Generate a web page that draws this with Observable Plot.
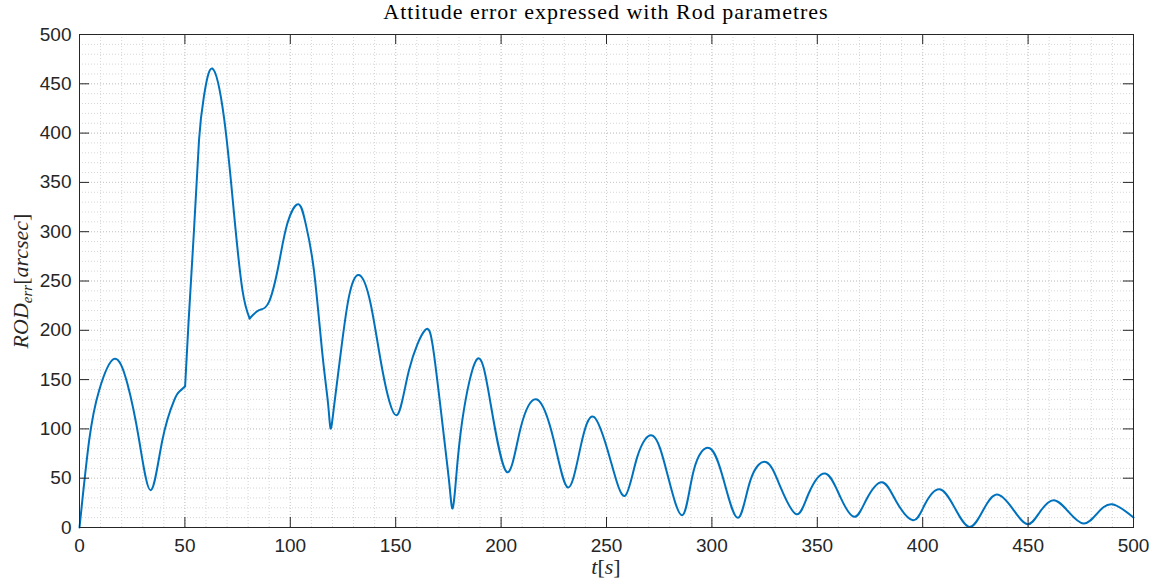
<!DOCTYPE html>
<html>
<head>
<meta charset="utf-8">
<script src="https://cdn.jsdelivr.net/npm/d3@7"></script>
<script src="https://cdn.jsdelivr.net/npm/@observablehq/plot@0.6"></script>
<style>
  html, body { margin: 0; padding: 0; background: #fff; }
  #wrap { position: relative; width: 1155px; height: 583px; }
  #title { position: absolute; left: 79px; width: 1054px; top: 1px; text-align: center;
    font-family: "Liberation Serif", serif; font-size: 22px; line-height: 21px; letter-spacing: 1px; color: #000; }
  #ylab { position: absolute; left: 22px; top: 281px; transform: translate(-50%, -50%) rotate(-90deg);
    font-family: "Liberation Serif", serif; font-size: 22px; white-space: nowrap; color: #262626; }
  #xlab { position: absolute; left: 606px; top: 556px; transform: translateX(-50%);
    font-family: "Liberation Serif", serif; font-size: 22px; line-height: 22px; white-space: nowrap; color: #262626; }
  sub { font-size: 15px; vertical-align: -4px; }
</style>
</head>
<body>
<div id="wrap">
  <div id="chart"></div>
  <div id="title">Attitude error expressed with Rod parametres</div>
  <div id="ylab"><i>ROD<sub>err</sub></i>[<i>arcsec</i>]</div>
  <div id="xlab"><i>t</i>[<i>s</i>]</div>
</div>
<script>
const tValues = [0, 4.6, 9.3, 16.4, 22.7, 28.3, 33.8, 39.3, 44.9, 47.2, 50.1, 51.7, 54.3, 56.7, 59.0, 63.0, 68.6, 73.3, 77.3, 80.7, 85.2, 89.9, 94.6, 98.6, 103.8, 107.3, 111.2, 115.2, 117.9, 119.1, 120.7, 123.9, 127.8, 132.6, 138.1, 143.7, 150.4, 156.3, 163.9, 168.1, 172.9, 175.6, 176.8, 178.3, 181.6, 188.7, 195.0, 202.6, 209.2, 217.1, 225, 231.7, 237.7, 244, 251.9, 258.7, 264.6, 272.1, 278.8, 286, 291.4, 299, 305.6, 312.4, 318.3, 325.9, 332.5, 340.1, 345.9, 353.8, 360.9, 367.6, 373.3, 380.7, 387.4, 395.4, 401, 408, 415.2, 422.2, 428.6, 435.2, 442.8, 449.7, 455.5, 462.1, 469.2, 476.3, 482.6, 489.8, 500];
const rodErr = [0, 88.5, 139, 171, 146, 88.5, 37.8, 88.5, 129, 137.5, 143.3, 207, 301, 393, 437, 465.5, 415, 318.5, 240.7, 212, 220.4, 228.8, 267.7, 308.3, 327.9, 308, 261, 176.5, 126, 100.4, 122, 176.5, 233.9, 256, 227, 159.5, 113.9, 159.5, 200, 176.5, 91.9, 41.2, 19.3, 41.2, 108.8, 171, 125.8, 56.4, 100.4, 129.8, 88.5, 40.6, 81.8, 112.2, 68.3, 32, 71.6, 92.9, 54.8, 12.5, 58.1, 80.4, 48, 9.8, 48, 66.2, 41.2, 13.5, 34.5, 54.8, 31, 10.8, 28.4, 45.9, 26.7, 7.4, 23.3, 38.8, 19.9, 0.6, 17.2, 33.4, 18.6, 3.3, 15.5, 27.7, 15.8, 4, 13.8, 23.6, 10.1];
// times where the response has a corner (controller switch / kink)
const cornerTimes = [50.1, 80.7];
const xTicks = [0, 50, 100, 150, 200, 250, 300, 350, 400, 450, 500];
const yTicks = [0, 50, 100, 150, 200, 250, 300, 350, 400, 450, 500];
const minorTicks = d3.range(0, 501, 10);

// split the series into smooth pieces that share their corner points
const data = [];
tValues.forEach((t, i) => {
  const seg = cornerTimes.filter(c => t > c).length;
  data.push({t, v: rodErr[i], seg});
  if (cornerTimes.includes(t)) data.push({t, v: rodErr[i], seg: seg + 1});
});
const axisColor = "#262626";

const chart = Plot.plot({
  width: 1155,
  height: 583,
  marginLeft: 79,
  marginRight: 22,
  marginTop: 34,
  marginBottom: 56,
  style: {fontFamily: "'Liberation Sans', Arial, sans-serif", fontSize: "19px", color: axisColor, background: "#fff"},
  x: {domain: [0, 500]},
  y: {domain: [0, 500]},
  marks: [
    Plot.gridX(minorTicks, {stroke: "#d6d6d6", strokeOpacity: 1, strokeDasharray: "1,2"}),
    Plot.gridY(minorTicks, {stroke: "#d6d6d6", strokeOpacity: 1, strokeDasharray: "1,2"}),
    Plot.gridX(xTicks, {stroke: "#cccccc", strokeOpacity: 1, strokeDasharray: "1,2"}),
    Plot.gridY(yTicks, {stroke: "#cccccc", strokeOpacity: 1, strokeDasharray: "1,2"}),
    Plot.line(data, {x: "t", y: "v", z: "seg", stroke: "#0072BD", strokeWidth: 2, curve: "natural", strokeLinejoin: "round", strokeLinecap: "round"}),
    Plot.ruleX(xTicks, {y1: 0, y2: 10.2, stroke: axisColor}),
    Plot.ruleX(xTicks, {y1: 489.8, y2: 500, stroke: axisColor}),
    Plot.ruleY(yTicks, {x1: 0, x2: 4.8, stroke: axisColor}),
    Plot.ruleY(yTicks, {x1: 495.2, x2: 500, stroke: axisColor}),
    Plot.frame({stroke: axisColor}),
    Plot.axisX(xTicks, {tickSize: 0, tickPadding: 11, label: null, fontSize: 19}),
    Plot.axisY(yTicks, {tickSize: 0, tickPadding: 8, label: null, fontSize: 19})
  ]
});
document.getElementById("chart").appendChild(chart);
</script>
</body>
</html>
